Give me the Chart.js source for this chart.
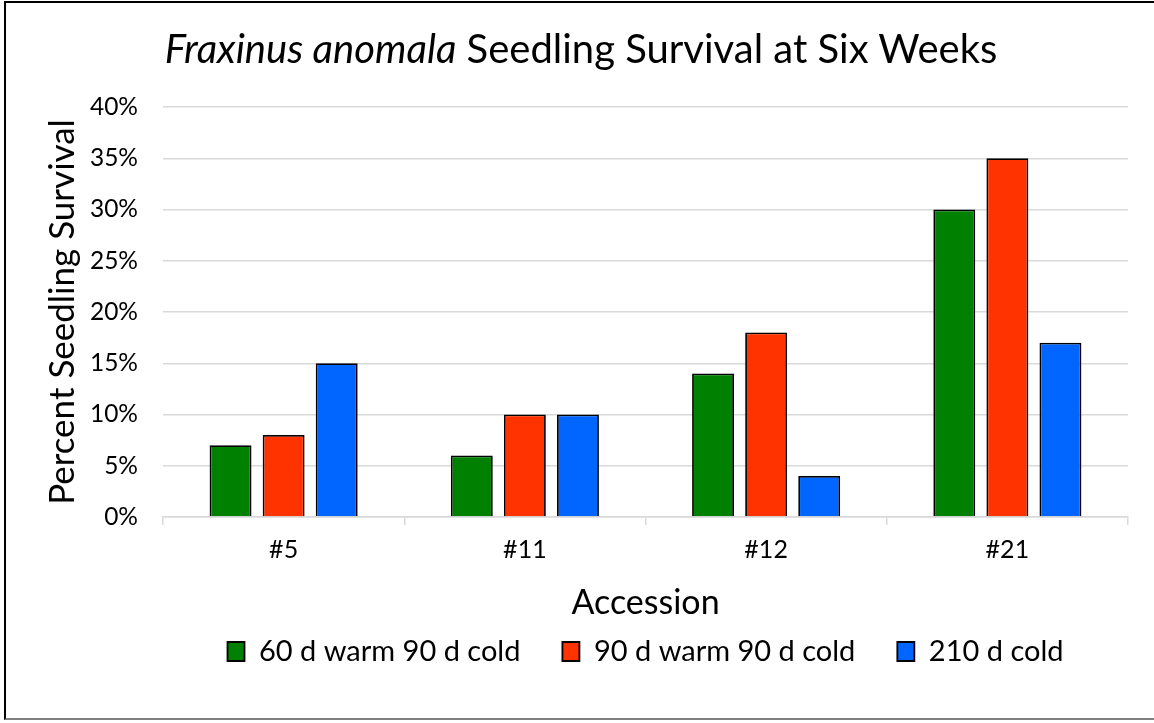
<!DOCTYPE html>
<html>
<head>
<meta charset="utf-8">
<script src="https://cdn.jsdelivr.net/npm/chart.js@4"></script>
<style>
  html, body { margin: 0; padding: 0; background: #fff; }
  #wrap { position: relative; width: 1154px; height: 723px; overflow: hidden; background: #fff; }
  #frame { position: absolute; left: 4px; top: 1px; width: 1200px; height: 719px;
           border-left: 2px solid #000; border-top: 2px solid #000; border-bottom: 2px solid #808080; box-sizing: border-box; }
  #title { position: absolute; left: 0; width: 1162px; top: 24px; text-align: center;
           font-family: Lato, sans-serif; font-size: 40px; color: #000; line-height: 48px; white-space: nowrap; }
  #c { position: absolute; left: 0; top: 0; }
</style>
</head>
<body>
<div id="wrap">
  <div id="frame"></div>
  <canvas id="c" width="1154" height="723"></canvas>
  <div id="title"><i>Fraxinus anomala</i> Seedling Survival at Six Weeks</div>
</div>
<script>
const categories = ["#5", "#11", "#12", "#21"];
const seriesNames = ["60 d warm 90 d cold", "90 d warm 90 d cold", "210 d cold"];
const warm60 = [7, 6, 14, 30];
const warm90 = [8, 10, 18, 35];
const cold210 = [15, 10, 4, 17];
const yTicks = [0, 5, 10, 15, 20, 25, 30, 35, 40];
const colors = ["#008000", "#FF3300", "#0066FF"];

const FONT = "Lato, sans-serif";

const ds = [warm60, warm90, cold210].map((vals, i) => ({
  label: seriesNames[i],
  data: vals,
  backgroundColor: colors[i],
  borderColor: "#000",
  borderWidth: 1.8,
  categoryPercentage: 0.66,
  barPercentage: 0.79
}));

new Chart(document.getElementById("c"), {
  type: "bar",
  data: { labels: categories, datasets: ds },
  options: {
    responsive: false,
    animation: false,
    layout: { padding: { top: 107, right: 26, bottom: 47, left: 0 } },
    plugins: {
      title: { display: false },
      tooltip: { enabled: false },
      legend: {
        position: "bottom",
        fullSize: false,
        labels: {
          font: { family: FONT, size: 29 },
          color: "#000",
          boxWidth: 17,
          boxHeight: 19,
          padding: 42
        }
      }
    },
    scales: {
      x: {
        grid: { display: true, drawOnChartArea: false, color: "#d9d9d9", tickLength: 8, lineWidth: 1.5, offset: true },
        border: { display: true, color: "#d9d9d9", width: 1.5 },
        ticks: { font: { family: FONT, size: 25 }, color: "#000", padding: 10 },
        title: { display: true, text: "Accession", font: { family: FONT, size: 34 }, color: "#000",
                 padding: { top: 0, bottom: -28 } },
        afterFit: (s) => { s.height = 78; }
      },
      y: {
        min: 0, max: 40,
        afterBuildTicks: (s) => { s.ticks = yTicks.map(v => ({ value: v })); },
        grid: { color: "#d9d9d9", lineWidth: 1.5, drawTicks: false },
        border: { display: false },
        ticks: { font: { family: FONT, size: 24.5 }, color: "#000", padding: 25,
                 callback: (v) => v + "%" },
        title: { display: true, text: "Percent Seedling Survival", font: { family: FONT, size: 35 }, color: "#000",
                 padding: { top: 42, bottom: 0 } },
        afterFit: (s) => { s.width = 163; }
      }
    }
  }
});
</script>
</body>
</html>
